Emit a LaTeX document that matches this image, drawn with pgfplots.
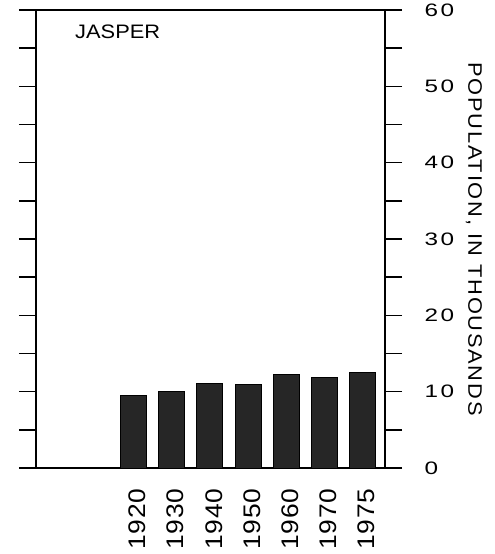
\documentclass[border=0pt]{standalone}
\usepackage{fontspec}
\setmainfont{Liberation Sans}
\newfontfamily\ytickfont[FakeStretch=1.35,LetterSpace=15]{Liberation Sans}
\newfontfamily\xtickfont[FakeStretch=1.1,LetterSpace=3]{Liberation Sans}
\newfontfamily\titlefont[FakeStretch=1.12]{Liberation Sans}
\newfontfamily\labelfont[FakeStretch=1.12,LetterSpace=9]{Liberation Sans}
\usepackage{pgfplots}
\pgfplotsset{compat=1.18}
\begin{document}
\begin{tikzpicture}
\useasboundingbox (-36pt,-86pt) rectangle (459pt,468pt);
\begin{axis}[
  at={(0pt,0pt)}, anchor=south west,
  scale only axis, width=349pt, height=458pt,
  xmin=-2.55, xmax=6.585,
  ymin=0, ymax=60,
  axis line style={line width=1.6pt},
  ytick={0,10,...,60},
  minor ytick={5,15,...,55},
  tick align=outside,
  major tick length=17pt, minor tick length=17pt,
  every tick/.style={black, line width=1.4pt},
  yticklabel pos=right,
  ytick pos=both,
  /pgf/number format/assume math mode=true,
  yticklabel style={font={\ytickfont\fontsize{18}{19}\selectfont}, anchor=west, xshift=19pt},
  xtick=data,
  xticklabels={1920,1930,1940,1950,1960,1970,1975},
  xtick style={draw=none},
  xticklabel style={font={\xtickfont\fontsize{24}{26}\selectfont}, rotate=90, anchor=east, yshift=-4pt},
  ylabel={POPULATION, IN THOUSANDS},
  every axis y label/.style={at={(rel axis cs:1,0.5)}, xshift=89pt, anchor=center, rotate=-90, font={\labelfont\fontsize{19.5}{22}\selectfont}},
  ybar, bar width=26pt,
]
\addplot[fill=black!85, draw=black, line width=0.8pt] coordinates {
  (0,9.5) (1,10.0) (2,11.05) (3,11.0) (4,12.2) (5,11.9) (6,12.5)
};
\node[anchor=north west, inner sep=0pt, font={\titlefont\fontsize{19.5}{22}\selectfont}] at (rel axis cs:0,1) [xshift=39pt, yshift=-15pt] {JASPER};
\end{axis}
\end{tikzpicture}
\end{document}
